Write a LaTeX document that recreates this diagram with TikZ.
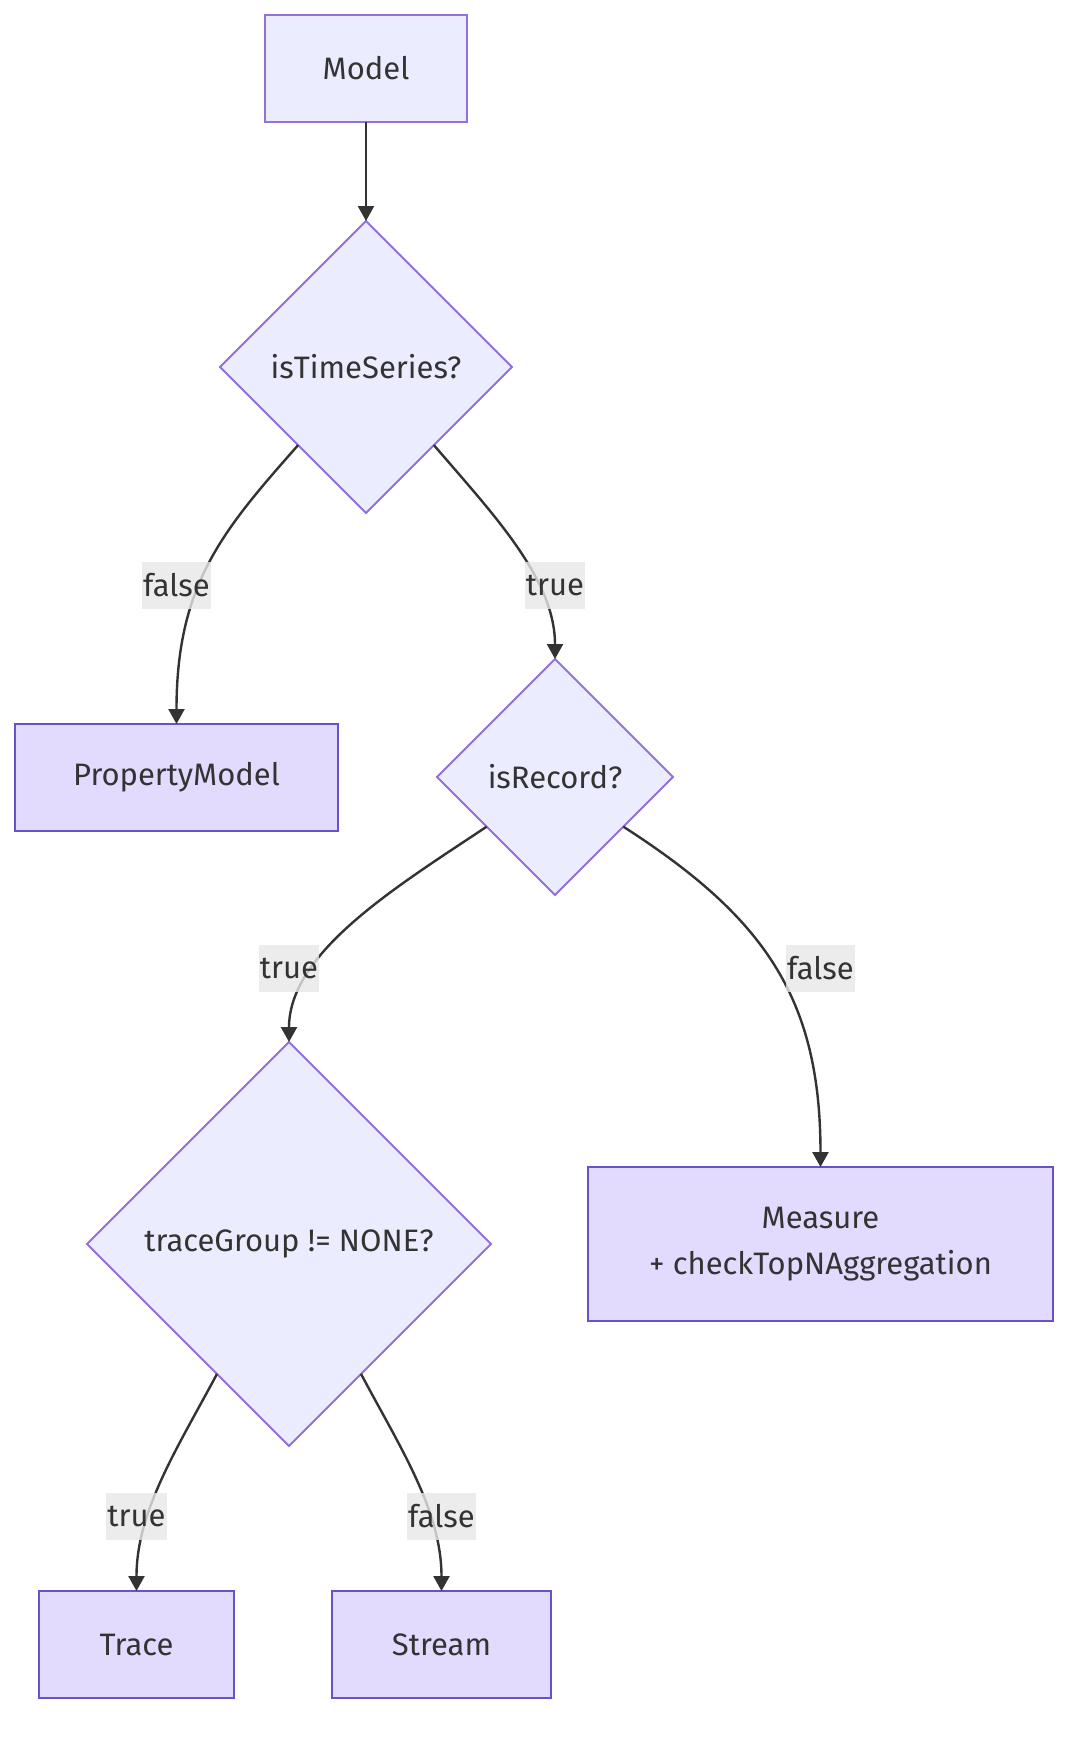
\documentclass[tikz,border=0pt]{standalone}
\usepackage{fontspec}
\setmainfont{Fira Sans}
\usetikzlibrary{shapes.geometric,arrows.meta}

\definecolor{softfill}{HTML}{ECECFF}
\definecolor{softline}{HTML}{9370DB}
\definecolor{leaffill}{HTML}{E3DBFE}
\definecolor{leafline}{HTML}{6A50C9}
\definecolor{inkgray}{HTML}{333333}
\definecolor{lblgray}{HTML}{E8E8E8}

\begin{document}
\begin{tikzpicture}[x=1pt,y=-1pt,
    font=\fontsize{31}{46}\selectfont, text=inkgray,
    box/.style={rectangle, draw=softline, fill=softfill, line width=2pt,
      outer sep=0pt, minimum height=107pt},
    leaf/.style={box, draw=leafline, fill=leaffill},
    decision/.style={diamond, aspect=1, draw=softline, fill=softfill,
      line width=2pt, outer sep=0pt, inner sep=0pt},
    edge/.style={draw=inkgray, line width=2.4pt,
      -{Triangle[length=15pt,width=16pt]}},
    lbl/.style={fill=lblgray, fill opacity=0.8, text opacity=1,
      inner xsep=1pt, inner ysep=0pt, minimum height=47pt}]

    \fill[white] (0,0) rectangle (1084,1738);
    \useasboundingbox (0,0) rectangle (1084,1738);

    % nodes
    \node[box, minimum width=202pt] (model) at (366,68.5) {Model};
    \node[decision, minimum width=292pt, minimum height=292pt] (ts) at (366,367) {isTimeSeries?};
    \node[leaf, minimum width=323pt] (pm) at (176.5,777.5) {PropertyModel};
    \node[decision, minimum width=236pt, minimum height=236pt] (ir) at (555,777) {isRecord?};
    \node[decision, minimum width=404pt, minimum height=404pt] (tg) at (289,1244) {traceGroup != NONE?};
    \node[leaf, minimum width=465pt, minimum height=154pt, align=center] (ms) at (820.5,1244)
      {Measure\\+ checkTopNAggregation};
    \node[leaf, minimum width=195pt] (tr) at (136.5,1644.5) {Trace};
    \node[leaf, minimum width=219pt] (st) at (441.5,1644.5) {Stream};

    % connectors
    \draw[edge] (model.south) -- (ts.north);

    \foreach \a/\ang/\b/\txt/\dx/\dy/\hb/\up in {
        ts/-131/pm/false/-75/85/140/139,
        ts/-49/ir/true/60/70/80/74,
        ir/-144/tg/true/-90/60/90/74,
        ir/-36/ms/false/140/90/170/199,
        tg/-119/tr/true/-40/75/80/75,
        tg/-61/st/false/40/75/80/75} {
        \draw[edge] (\a.\ang) .. controls +(\dx,\dy) and +(0,-\hb) .. (\b.north)
            node[lbl] at ([yshift=\up pt]\b.north) {\txt};
    }

\end{tikzpicture}
\end{document}
